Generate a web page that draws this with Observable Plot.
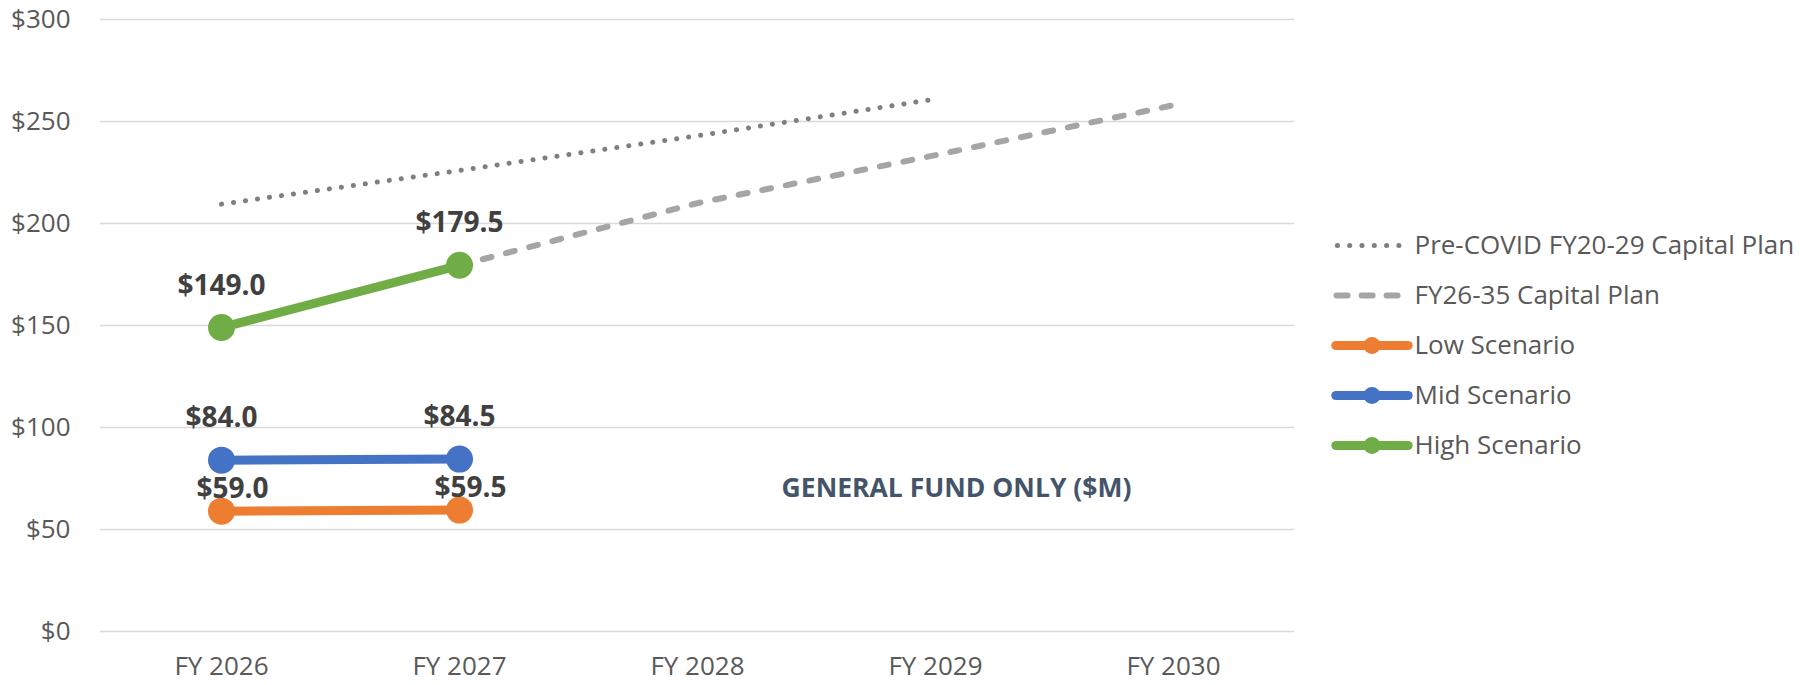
<!DOCTYPE html>
<html>
<head>
<meta charset="utf-8">
<script src="https://cdn.jsdelivr.net/npm/d3@7"></script>
<script src="https://cdn.jsdelivr.net/npm/@observablehq/plot@0.6"></script>
<style>
  html, body { margin: 0; padding: 0; background: #fff; overflow: hidden; }
  #wrap { position: relative; width: 1808px; height: 685px; }
  #legend { position: absolute; left: 1320px; top: 210px; }
</style>
</head>
<body>
<div id="wrap"><div id="chart"></div><div id="legend"></div></div>
<script>
// ---- data ----
const years = ["FY 2026", "FY 2027", "FY 2028", "FY 2029", "FY 2030"];
const yTicks = [0, 50, 100, 150, 200, 250, 300];

const preCovidYears = ["FY 2026", "FY 2027", "FY 2028", "FY 2029"];
const preCovidValues = [209.5, 226, 243, 261];

const planYears = ["FY 2027", "FY 2028", "FY 2029", "FY 2030"];
const planValues = [179.5, 210, 233.5, 258];

const scenarioYears = ["FY 2026", "FY 2027"];
const lowValues = [59.0, 59.5];
const midValues = [84.0, 84.5];
const highValues = [149.0, 179.5];

const legendNames = ["Pre-COVID FY20-29 Capital Plan", "FY26-35 Capital Plan", "Low Scenario", "Mid Scenario", "High Scenario"];
const noteText = "GENERAL FUND ONLY ($M)";
const noteYear = "FY 2029";
const noteValue = 70;

// ---- styles ----
const colors = {
  "Pre-COVID FY20-29 Capital Plan": "#7f7f7f",
  "FY26-35 Capital Plan": "#a5a5a5",
  "Low Scenario": "#ED7D31",
  "Mid Scenario": "#4472C4",
  "High Scenario": "#70AD47"
};
const font = "'Open Sans', 'Noto Sans', sans-serif";

const preCovid = preCovidYears.map((y, i) => ({year: y, value: preCovidValues[i]}));
const plan = planYears.map((y, i) => ({year: y, value: planValues[i]}));
const scen = (name, vals) => scenarioYears.map((y, i) => ({name, year: y, value: vals[i]}));
const low = scen("Low Scenario", lowValues);
const mid = scen("Mid Scenario", midValues);
const high = scen("High Scenario", highValues);

const fmt = v => "$" + v.toFixed(1);

function scenarioMarks(data) {
  const c = colors[data[0].name];
  return [
    Plot.line(data, {x: "year", y: "value", stroke: c, strokeWidth: 9, strokeLinecap: "round"}),
    Plot.dot(data, {x: "year", y: "value", r: 13.5, fill: c, stroke: null}),
  ];
}
function labelMarks(data, dx, dy) {
  return Plot.text(data, {x: "year", y: "value", text: d => fmt(d.value), dx, dy,
    lineAnchor: "bottom", fill: "#404040", fontWeight: "bold", fontSize: 28});
}

const chart = Plot.plot({
  width: 1808,
  height: 685,
  marginLeft: 100,
  marginRight: 514,
  marginTop: 19,
  marginBottom: 54,
  style: {fontFamily: font, fontSize: "26px", color: "#595959", background: "#fff"},
  x: {type: "point", domain: years, padding: 0.5},
  y: {domain: [0, 300]},
  marks: [
    Plot.gridY(yTicks, {stroke: "#d9d9d9", strokeOpacity: 1, strokeWidth: 1.5}),
    Plot.axisY(yTicks, {tickSize: 0, tickPadding: 30, tickFormat: d => "$" + d, fontSize: 26, label: null}),
    Plot.axisX({tickSize: 0, tickPadding: 25, fontSize: 26, label: null}),
    Plot.line(preCovid, {x: "year", y: "value", stroke: colors["Pre-COVID FY20-29 Capital Plan"], strokeWidth: 5, strokeDasharray: "0.1 12", strokeLinecap: "round"}),
    Plot.line(plan, {x: "year", y: "value", stroke: colors["FY26-35 Capital Plan"], strokeWidth: 6, strokeDasharray: "9 15", strokeLinecap: "round"}),
    ...scenarioMarks(low),
    ...scenarioMarks(mid),
    ...scenarioMarks(high),
    labelMarks(low, 11, -13),
    labelMarks(mid, 0, -33),
    labelMarks(high, 0, -33),
    Plot.text([noteText], {x: () => noteYear, y: () => noteValue, text: d => d, dx: 21, fill: "#44546A", fontWeight: "bold", fontSize: 26.5})
  ]
});
document.getElementById("chart").appendChild(chart);

// ---- legend (second small plot) ----
const legendRows = legendNames.map(name => ({name}));
const legendLine = names => legendRows.filter(d => names.includes(d.name));
const legend = Plot.plot({
  width: 488,
  height: 270,
  margin: 0,
  style: {fontFamily: font, fontSize: "26px", color: "#595959", background: "transparent"},
  x: {domain: [0, 1], range: [13, 90], axis: null},
  y: {type: "point", domain: legendNames, range: [34, 236], padding: 0, axis: null},
  marks: [
    Plot.link(legendLine(["Pre-COVID FY20-29 Capital Plan"]), {x1: 0.05, x2: 0.95, y1: "name", y2: "name",
      stroke: colors["Pre-COVID FY20-29 Capital Plan"], strokeWidth: 5, strokeDasharray: "0.1 12.2", strokeLinecap: "round"}),
    Plot.link(legendLine(["FY26-35 Capital Plan"]), {x1: 0.04, x2: 0.93, y1: "name", y2: "name",
      stroke: colors["FY26-35 Capital Plan"], strokeWidth: 6, strokeDasharray: "11 14", strokeLinecap: "round"}),
    Plot.link(legendLine(["Low Scenario", "Mid Scenario", "High Scenario"]), {x1: 0.03, x2: 0.97, y1: "name", y2: "name",
      stroke: d => colors[d.name], strokeWidth: 9, strokeLinecap: "round"}),
    Plot.dot(legendLine(["Low Scenario", "Mid Scenario", "High Scenario"]), {x: () => 0.5, y: "name", r: 8.5,
      fill: d => colors[d.name], stroke: null}),
    Plot.text(legendRows, {x: () => 1, y: "name", text: "name", textAnchor: "start", dx: 4, fill: "#595959", fontSize: 26})
  ]
});
document.getElementById("legend").appendChild(legend);
</script>
</body>
</html>
